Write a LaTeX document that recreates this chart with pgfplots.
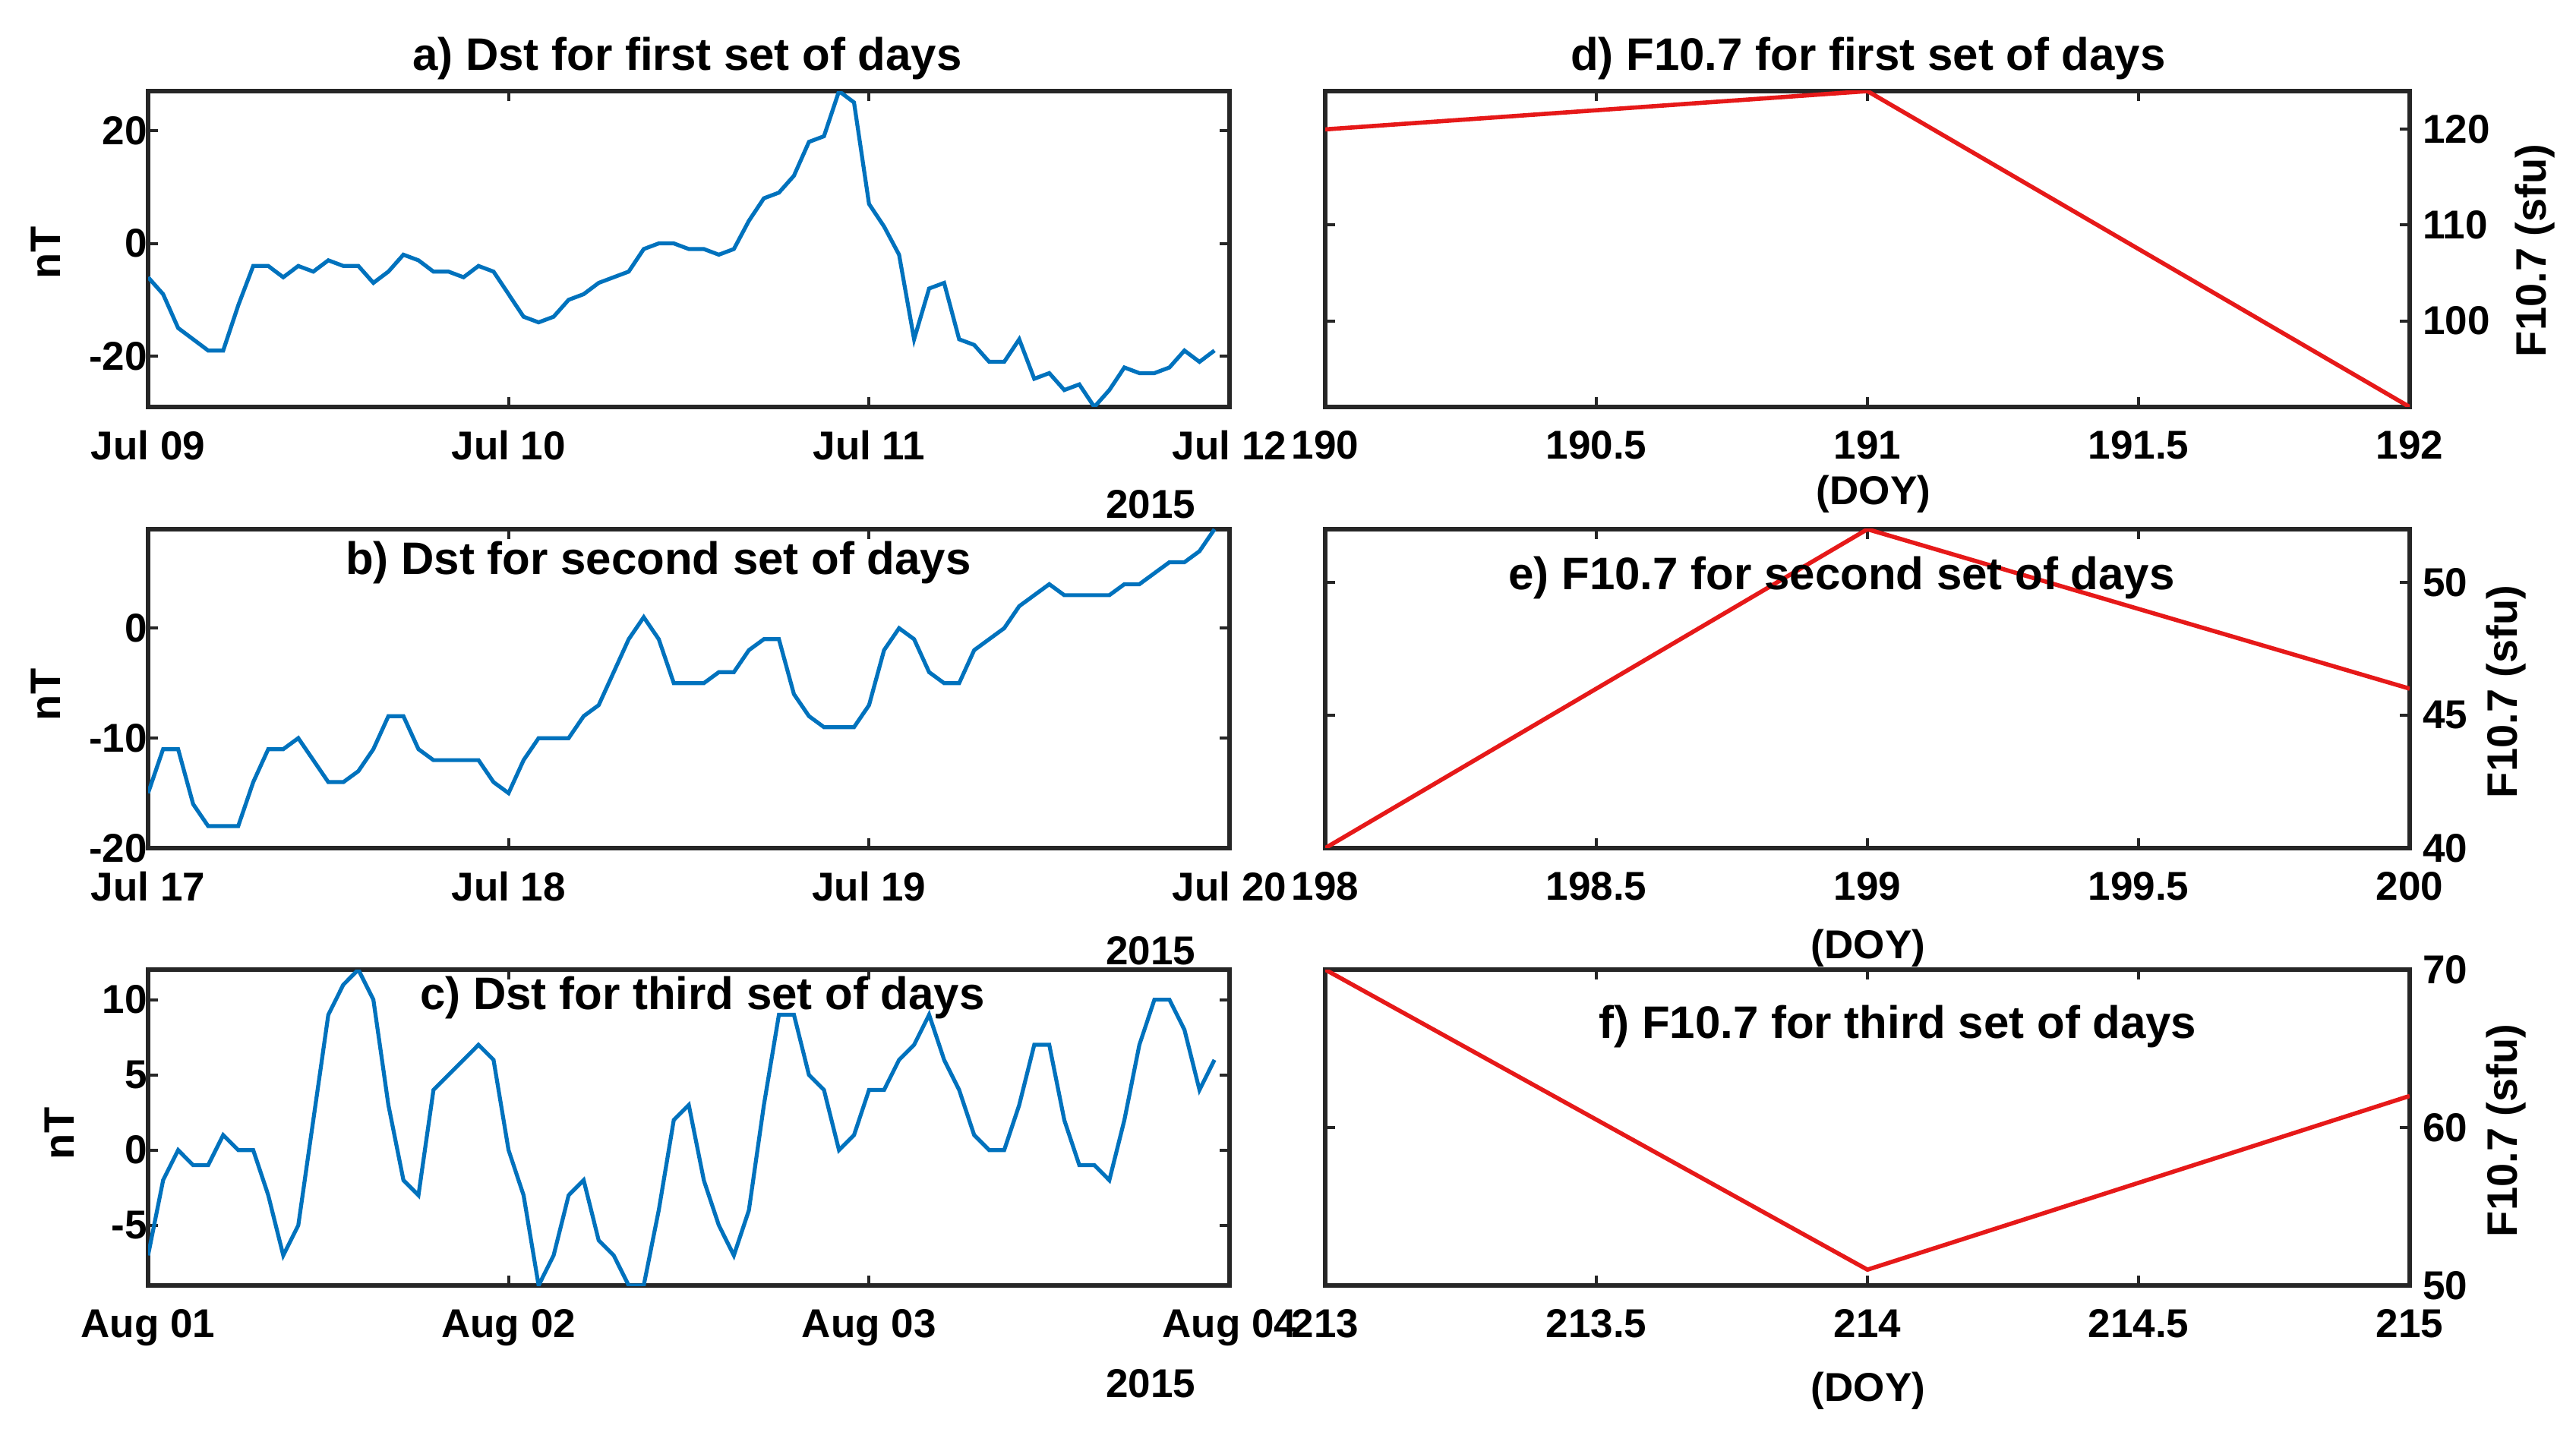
\documentclass[border=0pt]{standalone}
\usepackage{fontspec}
\setmainfont{Liberation Sans}
\usepackage{pgfplots}
\pgfplotsset{compat=1.18}

\definecolor{dstblue}{RGB}{0,114,189}
\definecolor{fred}{RGB}{230,25,25}
\definecolor{axgray}{gray}{0.15}

\newcommand{\tickfont}{\fontsize{13.25}{15}\selectfont\bfseries}
\newcommand{\titlefont}{\fontsize{15}{17}\selectfont\bfseries}
\newcommand{\labfont}{\fontsize{14}{16}\selectfont\bfseries}

\pgfplotsset{
  panel/.style={
    scale only axis, anchor=south west,
    axis line style={axgray, line width=1.4pt},
    tick align=inside, major tick length=3.25pt,
    every tick/.style={axgray, line width=1pt},
    tick label style={font=\tickfont, text=black},
    xtick pos=both, xticklabel pos=left, ytick pos=both,
    xticklabel style={yshift=-4.3pt},
    clip=true,
  },
  dst/.style={panel, width=356pt, xmin=0, xmax=72, xtick={0,24,48,72},
    yticklabel pos=left, yticklabel style={xshift=3.2pt}},
  flux/.style={panel, width=357pt, yticklabel pos=right,
    yticklabel style={xshift=0.8pt}},
  dstline/.style={dstblue, line width=1.3pt},
  fluxline/.style={fred, line width=1.4pt},
}

\begin{document}
\begin{tikzpicture}
\path[use as bounding box] (0,0) rectangle (848pt,471.25pt);

% ---- a) Dst, Jul 09-12 ----
\begin{axis}[dst, at={(48.75pt,337.25pt)}, height=104pt,
  ymin=-29, ymax=27, ytick={-20,0,20}, yticklabels={-20,0,20},
  xticklabels={Jul 09,Jul 10,Jul 11,Jul 12}]
\addplot[dstline] table[row sep=\\] {h v\\
0 -6\\ 1 -9\\ 2 -15\\ 3 -17\\ 4 -19\\ 5 -19\\ 6 -11\\ 7 -4\\ 8 -4\\ 9 -6\\
10 -4\\ 11 -5\\ 12 -3\\ 13 -4\\ 14 -4\\ 15 -7\\ 16 -5\\ 17 -2\\ 18 -3\\ 19 -5\\
20 -5\\ 21 -6\\ 22 -4\\ 23 -5\\ 24 -9\\ 25 -13\\ 26 -14\\ 27 -13\\ 28 -10\\ 29 -9\\
30 -7\\ 31 -6\\ 32 -5\\ 33 -1\\ 34 0\\ 35 0\\ 36 -1\\ 37 -1\\ 38 -2\\ 39 -1\\
40 4\\ 41 8\\ 42 9\\ 43 12\\ 44 18\\ 45 19\\ 46 27\\ 47 25\\ 48 7\\ 49 3\\
50 -2\\ 51 -17\\ 52 -8\\ 53 -7\\ 54 -17\\ 55 -18\\ 56 -21\\ 57 -21\\ 58 -17\\ 59 -24\\
60 -23\\ 61 -26\\ 62 -25\\ 63 -29\\ 64 -26\\ 65 -22\\ 66 -23\\ 67 -23\\ 68 -22\\ 69 -19\\
70 -21\\ 71 -19\\
};
\end{axis}

% ---- b) Dst, Jul 17-20 ----
\begin{axis}[dst, at={(48.75pt,192pt)}, height=105pt,
  ymin=-20, ymax=9, ytick={-20,-10,0}, yticklabels={-20,-10,0},
  xticklabels={Jul 17,Jul 18,Jul 19,Jul 20}]
\addplot[dstline] table[row sep=\\] {h v\\
0 -15\\ 1 -11\\ 2 -11\\ 3 -16\\ 4 -18\\ 5 -18\\ 6 -18\\ 7 -14\\ 8 -11\\ 9 -11\\
10 -10\\ 11 -12\\ 12 -14\\ 13 -14\\ 14 -13\\ 15 -11\\ 16 -8\\ 17 -8\\ 18 -11\\ 19 -12\\
20 -12\\ 21 -12\\ 22 -12\\ 23 -14\\ 24 -15\\ 25 -12\\ 26 -10\\ 27 -10\\ 28 -10\\ 29 -8\\
30 -7\\ 31 -4\\ 32 -1\\ 33 1\\ 34 -1\\ 35 -5\\ 36 -5\\ 37 -5\\ 38 -4\\ 39 -4\\
40 -2\\ 41 -1\\ 42 -1\\ 43 -6\\ 44 -8\\ 45 -9\\ 46 -9\\ 47 -9\\ 48 -7\\ 49 -2\\
50 0\\ 51 -1\\ 52 -4\\ 53 -5\\ 54 -5\\ 55 -2\\ 56 -1\\ 57 0\\ 58 2\\ 59 3\\
60 4\\ 61 3\\ 62 3\\ 63 3\\ 64 3\\ 65 4\\ 66 4\\ 67 5\\ 68 6\\ 69 6\\
70 7\\ 71 9\\
};
\end{axis}

% ---- c) Dst, Aug 01-04 ----
\begin{axis}[dst, at={(48.75pt,48pt)}, height=104pt,
  ymin=-9, ymax=12, ytick={-5,0,5,10}, yticklabels={-5,0,5,10},
  xticklabels={Aug 01,Aug 02,Aug 03,Aug 04}]
\addplot[dstline] table[row sep=\\] {h v\\
0 -7\\ 1 -2\\ 2 0\\ 3 -1\\ 4 -1\\ 5 1\\ 6 0\\ 7 0\\ 8 -3\\ 9 -7\\
10 -5\\ 11 2\\ 12 9\\ 13 11\\ 14 12\\ 15 10\\ 16 3\\ 17 -2\\ 18 -3\\ 19 4\\
20 5\\ 21 6\\ 22 7\\ 23 6\\ 24 0\\ 25 -3\\ 26 -9\\ 27 -7\\ 28 -3\\ 29 -2\\
30 -6\\ 31 -7\\ 32 -9\\ 33 -9\\ 34 -4\\ 35 2\\ 36 3\\ 37 -2\\ 38 -5\\ 39 -7\\
40 -4\\ 41 3\\ 42 9\\ 43 9\\ 44 5\\ 45 4\\ 46 0\\ 47 1\\ 48 4\\ 49 4\\
50 6\\ 51 7\\ 52 9\\ 53 6\\ 54 4\\ 55 1\\ 56 0\\ 57 0\\ 58 3\\ 59 7\\
60 7\\ 61 2\\ 62 -1\\ 63 -1\\ 64 -2\\ 65 2\\ 66 7\\ 67 10\\ 68 10\\ 69 8\\
70 4\\ 71 6\\
};
\end{axis}

% ---- d) F10.7, DOY 190-192 ----
\begin{axis}[flux, at={(436.25pt,337.25pt)}, height=104pt,
  xmin=190, xmax=192, xtick={190,190.5,191,191.5,192},
  xticklabels={190,190.5,191,191.5,192},
  ymin=91, ymax=124, ytick={100,110,120}, yticklabels={100,110,120}]
\addplot[fluxline] coordinates {(190,120) (191,124) (192,91)};
\end{axis}

% ---- e) F10.7, DOY 198-200 ----
\begin{axis}[flux, at={(436.25pt,192pt)}, height=105pt,
  xmin=198, xmax=200, xtick={198,198.5,199,199.5,200},
  xticklabels={198,198.5,199,199.5,200},
  ymin=40, ymax=52, ytick={40,45,50}, yticklabels={40,45,50}]
\addplot[fluxline] coordinates {(198,40) (199,52) (200,46)};
\end{axis}

% ---- f) F10.7, DOY 213-215 ----
\begin{axis}[flux, at={(436.25pt,48pt)}, height=104pt,
  xmin=213, xmax=215, xtick={213,213.5,214,214.5,215},
  xticklabels={213,213.5,214,214.5,215},
  ymin=50, ymax=70, ytick={50,60,70}, yticklabels={50,60,70}]
\addplot[fluxline] coordinates {(213,70) (214,51) (215,62)};
\end{axis}

% ---- titles and labels (positions in image pixels) ----
\begin{scope}[x=0.25pt, y=0.25pt]
\begin{scope}[every node/.style={font=\titlefont, anchor=base, inner sep=0pt}]
\node at (905,{1885-93}) {a) Dst for first set of days};
\node at (2460,{1885-93}) {d) F10.7 for first set of days};
\node at (867,{1885-757}) {b) Dst for second set of days};
\node at (2425,{1885-777}) {e) F10.7 for second set of days};
\node at (925,{1885-1330}) {c) Dst for third set of days};
\node at (2499,{1885-1368}) {f) F10.7 for third set of days};
\end{scope}
\begin{scope}[every node/.style={font=\tickfont, anchor=base, inner sep=0pt}]
\node at (1515,{1885-683}) {2015};
\node at (1515,{1885-1271}) {2015};
\node at (1515,{1885-1840}) {2015};
\node at (2467,{1885-665}) {(DOY)};
\node at (2460,{1885-1263}) {(DOY)};
\node at (2460,{1885-1845}) {(DOY)};
\end{scope}
\begin{scope}[every node/.style={font=\labfont, rotate=90, anchor=center, inner sep=0pt}]
\node at (60,{1885-333}) {nT};
\node at (60,{1885-915}) {nT};
\node at (78,{1885-1493}) {nT};
\node at (3338,{1885-330}) {F10.7 (sfu)};
\node at (3300,{1885-911}) {F10.7 (sfu)};
\node at (3300,{1885-1489}) {F10.7 (sfu)};
\end{scope}
\end{scope}
\end{tikzpicture}
\end{document}
